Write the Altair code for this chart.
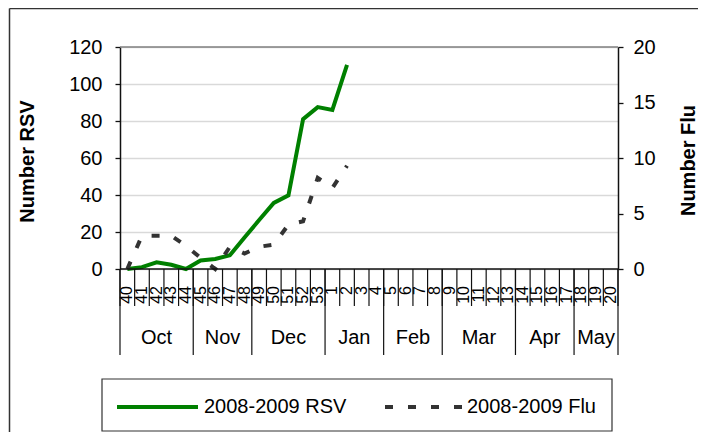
import altair as alt
import pandas as pd

# ---- data ----
weeks = [40, 41, 42, 43, 44, 45, 46, 47, 48, 49, 50, 51, 52, 53,
         1, 2, 3, 4, 5, 6, 7, 8, 9, 10, 11, 12, 13, 14, 15, 16, 17, 18, 19, 20]
rsv_values = [0, 1, 3.6, 2.3, 0, 4.6, 5.4, 7.4, 17, 26.5, 35.7, 39.8, 81, 87.5, 86, 110.4]
flu_values = [0, 3, 3, 3, 2.1, 1, 0, 2, 1.4, 2, 2.2, 4, 4.3, 8.2, 7.3, 9.3]
months = ["Oct", "Nov", "Dec", "Jan", "Feb", "Mar", "Apr", "May"]
month_week_counts = [5, 4, 5, 4, 4, 5, 4, 3]
rsv_ticks = [0, 20, 40, 60, 80, 100, 120]
flu_ticks = [0, 5, 10, 15, 20]
series_names = ["2008-2009 RSV", "2008-2009 Flu"]

W, H = 498, 222
FONT = "Liberation Sans"
GREEN = "#008000"
DARK = "#333333"
N = len(weeks)

# ---- derived tables ----
week_df = pd.DataFrame({"pos": [i + 0.5 for i in range(N)], "label": [str(w) for w in weeks]})
bound_df = pd.DataFrame({"b": list(range(N + 1))})
mb = [0]
for c in month_week_counts:
    mb.append(mb[-1] + c)
msep_df = pd.DataFrame({"b": mb})
mlab_df = pd.DataFrame({"pos": [(mb[i] + mb[i + 1]) / 2 for i in range(len(months))], "month": months})
rsv_df = pd.DataFrame({"pos": [i + 0.5 for i in range(len(rsv_values))], "rsv": rsv_values})
flu_df = pd.DataFrame({"pos": [i + 0.5 for i in range(len(flu_values))], "flu": flu_values})
one = pd.DataFrame({"a": [0]})

xscale = alt.Scale(domain=[0, N], nice=False, zero=False)
X = lambda f: alt.X(f, scale=xscale, axis=None)

rsv_line = alt.Chart(rsv_df).mark_line(color=GREEN, strokeWidth=4).encode(
    x=X("pos:Q"),
    y=alt.Y("rsv:Q", scale=alt.Scale(domain=[0, 120], nice=False),
            axis=alt.Axis(orient="left", values=rsv_ticks, title="Number RSV",
                          grid=True, gridColor="#d9d9d9", gridWidth=1.5,
                          domainColor="#111", domainWidth=1.5, tickColor="#111", tickWidth=1.3,
                          tickSize=5, labelFontSize=20, labelFont=FONT, labelColor="#000",
                          labelPadding=13, titleFont=FONT, titleFontSize=20,
                          titleFontWeight="bold", titleColor="#000", titleAngle=270,
                          titleX=-93, titleY=H / 2 + 3, titleAlign="center",
                          titleBaseline="middle")),
)

flu_line = alt.Chart(flu_df).mark_line(color=DARK, strokeWidth=4, strokeDash=[8, 15]).encode(
    x=X("pos:Q"),
    y=alt.Y("flu:Q", scale=alt.Scale(domain=[0, 20], nice=False),
            axis=alt.Axis(orient="right", values=flu_ticks, title="Number Flu", grid=False,
                          domainColor="#111", domainWidth=1.5, tickColor="#111", tickWidth=1.3,
                          tickSize=5, labelFontSize=20, labelFont=FONT, labelColor="#000",
                          labelPadding=10, titleFont=FONT, titleFontSize=20,
                          titleFontWeight="bold", titleColor="#000", titleAngle=270,
                          titleX=70, titleY=H / 2 + 2, titleAlign="center",
                          titleBaseline="middle")),
)

top_line = alt.Chart(one).mark_rule(color="#808080", strokeWidth=1.5).encode(
    x=alt.value(0), x2=alt.value(W), y=alt.value(0))
base_line = alt.Chart(one).mark_rule(color="#111", strokeWidth=1.5).encode(
    x=alt.value(0), x2=alt.value(W), y=alt.value(H))

week_ticks = alt.Chart(bound_df).mark_rule(color="#111", strokeWidth=1.2).encode(
    x=X("b:Q"), y=alt.value(H), y2=alt.value(H + 37))
month_seps = alt.Chart(msep_df).mark_rule(color="#111", strokeWidth=1.2).encode(
    x=X("b:Q"), y=alt.value(H), y2=alt.value(H + 86))
week_labels = alt.Chart(week_df).mark_text(font=FONT, fontSize=16, angle=270, align="right",
                                           baseline="middle", color="#000").encode(
    x=X("pos:Q"), y=alt.value(H + 17), text="label:N")
month_labels = alt.Chart(mlab_df).mark_text(font=FONT, fontSize=20, align="center",
                                            baseline="middle", color="#000").encode(
    x=X("pos:Q"), y=alt.value(H + 69), text="month:N")

# ---- legend (drawn by hand) ----
LY = H + 138
legend_box = alt.Chart(one).mark_rect(fill="white", stroke="#333", strokeWidth=1.2).encode(
    x=alt.value(-18), x2=alt.value(492), y=alt.value(H + 110), y2=alt.value(H + 162))
leg_rsv = alt.Chart(one).mark_rule(color=GREEN, strokeWidth=4).encode(
    x=alt.value(-3), x2=alt.value(78), y=alt.value(LY))
leg_flu = alt.Chart(one).mark_rule(color=DARK, strokeWidth=4, strokeDash=[8, 15]).encode(
    x=alt.value(265), x2=alt.value(343), y=alt.value(LY))
leg_t1 = alt.Chart(one).mark_text(font=FONT, fontSize=20, align="left", baseline="middle",
                                  color="#000", text=series_names[0]).encode(
    x=alt.value(84), y=alt.value(LY))
leg_t2 = alt.Chart(one).mark_text(font=FONT, fontSize=20, align="left", baseline="middle",
                                  color="#000", text=series_names[1]).encode(
    x=alt.value(347), y=alt.value(LY))

# ---- outer chart-area border (top and left visible) ----
border_top = alt.Chart(one).mark_rule(color="#333", strokeWidth=1.5).encode(
    x=alt.value(-110.5), x2=alt.value(W + 80), y=alt.value(-38.5))
border_left = alt.Chart(one).mark_rule(color="#333", strokeWidth=1.5).encode(
    x=alt.value(-110.5), y=alt.value(-38.5), y2=alt.value(H + 163))

chart = alt.layer(
    top_line, rsv_line, flu_line, base_line, week_ticks, month_seps, week_labels, month_labels,
    legend_box, leg_rsv, leg_flu, leg_t1, leg_t2, border_top, border_left,
).resolve_scale(y="independent").properties(
    width=W, height=H,
    padding={"left": 112, "top": 39, "right": 80, "bottom": 163},
    autosize=alt.AutoSizeParams(type="none"),
).configure_view(stroke=None).configure(font=FONT)

chart.save("out.html", embed_options={"renderer": "svg", "actions": False})
